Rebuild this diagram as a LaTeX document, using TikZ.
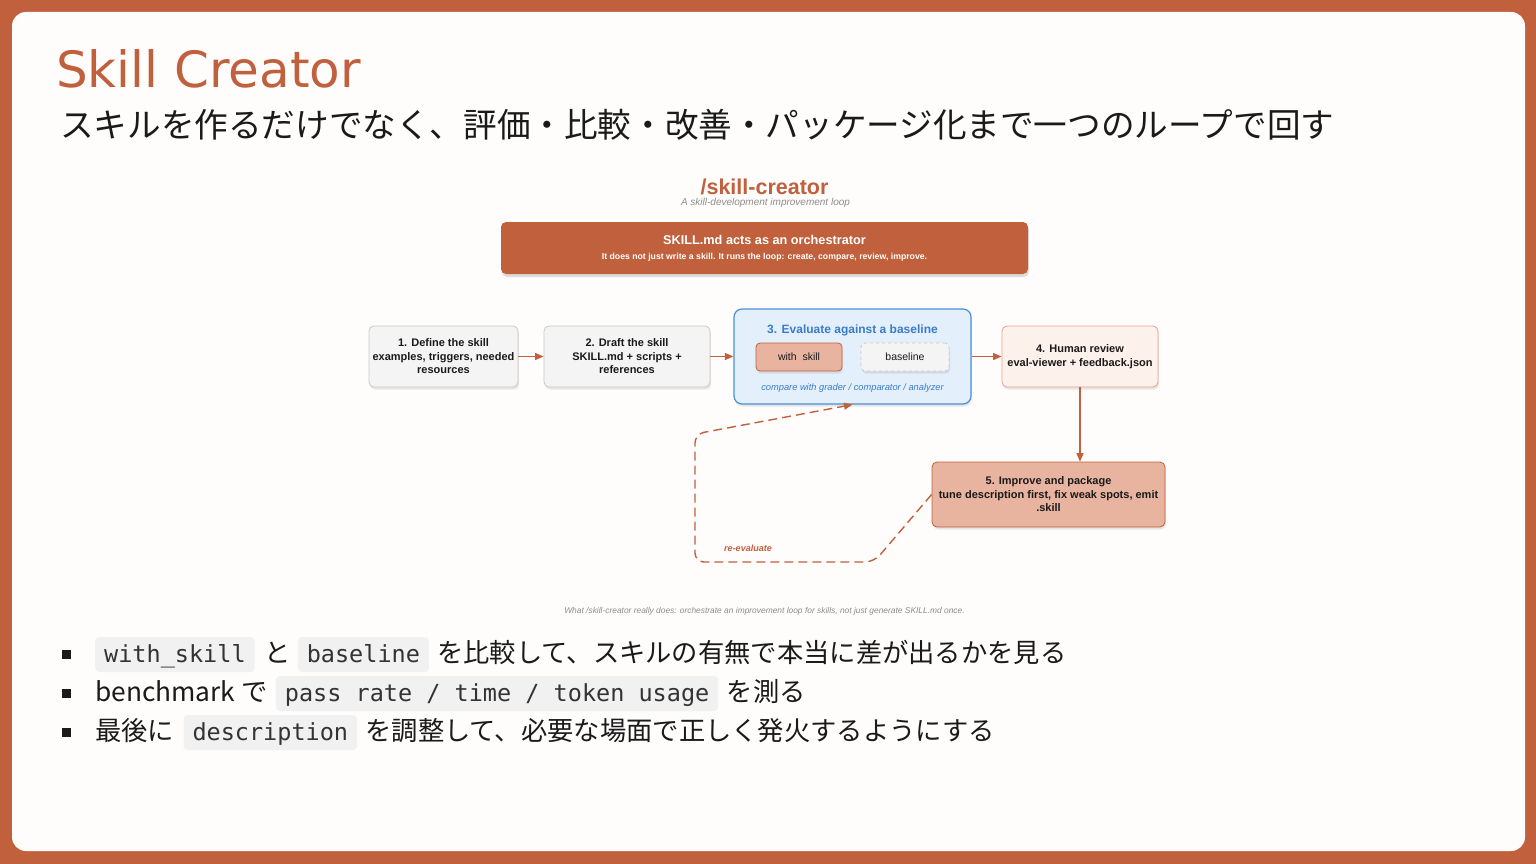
\documentclass[tikz,border=0pt]{standalone}
\usepackage{fontspec}
\setmainfont{Liberation Sans}
\newfontfamily\jpfont{Noto Sans CJK JP}
\newfontfamily\headfont{DejaVu Sans}
\newfontfamily\codefont{DejaVu Sans Mono}
\usetikzlibrary{arrows.meta,shadows,positioning}

\definecolor{rust}{HTML}{C0603D}
\definecolor{rustlight}{HTML}{E8B4A0}
\definecolor{peach}{HTML}{FDF1EB}
\definecolor{peachline}{HTML}{E2A48D}
\definecolor{boxgray}{HTML}{F4F4F4}
\definecolor{linegray}{HTML}{C8C8C8}
\definecolor{evalfill}{HTML}{E3F0FC}
\definecolor{evalblue}{HTML}{4A8FD5}
\definecolor{evaltext}{HTML}{3A7BC8}
\definecolor{codebg}{HTML}{F1F1F1}
\definecolor{codeink}{HTML}{333333}
\definecolor{ink}{HTML}{1A1A1A}
\definecolor{muted}{HTML}{8C8C8C}
\definecolor{paper}{HTML}{FFFDFC}

\begin{document}
\begin{tikzpicture}[x=1pt, y=-1pt,
    every node/.style={inner sep=0pt},
    shade box/.style={drop shadow={shadow xshift=1pt, shadow yshift=-2.5pt, opacity=0.18}},
    stepbox/.style={draw=linegray, fill=boxgray, rounded corners=5pt, line width=0.8pt,
        align=center, text=ink, font=\bfseries\fontsize{11}{13.5}\selectfont, shade box},
    flow/.style={rust, line width=1.3pt, -{Triangle[length=8.5pt,width=7pt]}},
    loopback/.style={rust, line width=1.4pt, dash pattern=on 9pt off 5pt, rounded corners=9pt,
        -{Triangle[length=8.5pt,width=7pt]}},
    code/.style={fill=codebg, rounded corners=4pt, inner xsep=9pt, inner ysep=1pt,
        text height=24pt, text depth=9pt, text=codeink, anchor=base west,
        font=\codefont\fontsize{23.5}{28}\selectfont},
    jptext/.style={anchor=base west, text=ink, font=\jpfont\fontsize{26.3}{30}\selectfont},
    bullet/.style={fill=ink, minimum size=9pt}
]
    \useasboundingbox (0,0) rectangle (1536,864);
    % frame
    \fill[rust] (0,0) rectangle (1536,864);
    \fill[paper, rounded corners=14pt] (12,12) rectangle (1525,851);

    % headings
    \node[anchor=base west, text=rust, font=\headfont\fontsize{50}{58}\selectfont] (title) at (56,88) {Skill Creator};
    \node[anchor=west, text=ink, font=\jpfont\fontsize{33.6}{40}\selectfont] (subtitle) at (60,125)
        {スキルを作るだけでなく、評価・比較・改善・パッケージ化まで一つのループで回す};

    % diagram
    \node[text=rust, font=\bfseries\fontsize{21.5}{24}\selectfont] (dtitle) at (764.5,187) {/skill-creator};
    \node[text=muted, font=\itshape\fontsize{10}{12}\selectfont] (dsub) at (765.5,203) {A skill-development improvement loop};

    \node[fill=rust, rounded corners=5pt, minimum width=527pt, minimum height=52pt, align=center, text=white,
        drop shadow={shadow xshift=1pt, shadow yshift=-3pt, opacity=0.25}] (orch) at (764.5,248)
        {{\bfseries\fontsize{12.7}{15}\selectfont SKILL.md acts as an orchestrator}\\[3pt]
         {\bfseries\fontsize{8.7}{10}\selectfont It does not just write a skill. It runs the loop: create, compare, review, improve.}};

    \node[stepbox, minimum width=149pt, minimum height=61pt] (define) at (443.5,356.5)
        {1. Define the skill\\examples, triggers, needed\\resources};
    \node[stepbox, minimum width=166pt, minimum height=61pt] (draft) at (627,356.5)
        {2. Draft the skill\\SKILL.md + scripts +\\references};

    \node[draw=evalblue, fill=evalfill, line width=1.2pt, rounded corners=8pt, minimum width=237pt,
        minimum height=95pt, shade box] (eval) at (852.5,356.5) {};
    \node[text=evaltext, font=\bfseries\fontsize{12}{14}\selectfont] (evaltitle) at (852.5,330) {3. Evaluate against a baseline};
    \node[draw=rust, fill=rustlight, line width=0.8pt, rounded corners=4pt, minimum width=86pt, minimum height=28pt,
        text=ink, font=\fontsize{10.5}{12}\selectfont, shade box] (withskill) at (799,357) {with\ \ skill};
    \node[draw=linegray, dashed, fill=boxgray, line width=0.8pt, rounded corners=4pt, minimum width=88pt, minimum height=28pt,
        text=ink, font=\fontsize{10.5}{12}\selectfont, shade box] (base) at (905,357) {baseline};
    \node[text=evaltext, font=\itshape\fontsize{9.3}{11}\selectfont] (evalnote) at (852.5,388)
        {compare with grader / comparator / analyzer};

    \node[stepbox, draw=peachline, fill=peach, minimum width=156pt, minimum height=61pt] (review) at (1080,356.5)
        {4. Human review\\eval-viewer + feedback.json};
    \node[stepbox, draw=rust, fill=rustlight, minimum width=233pt, minimum height=65pt] (improve) at (1048.5,494.5)
        {5. Improve and package\\tune description first, fix weak spots, emit\\.skill};

    \draw[flow] (define) -- (draft);
    \draw[flow] (draft) -- (eval);
    \draw[flow] (eval) -- (review);
    \draw[flow] (review.south) -- (review.south |- improve.north);

    \coordinate (loopA) at (874,562);
    \coordinate (loopB) at (695,562);
    \coordinate (loopC) at (695,434);
    \draw[loopback] (improve.west) -- (loopA) -- (loopB) -- (loopC) -- (eval.south);
    \node[text=rust, font=\bfseries\itshape\fontsize{9}{11}\selectfont] (relbl) at (748,548) {re-evaluate};

    \node[text=muted, font=\itshape\fontsize{8.4}{10}\selectfont] (foot) at (764.5,611)
        {What /skill-creator really does: orchestrate an improvement loop for skills, not just generate SKILL.md once.};

    % bullets
    \node[bullet] (b1) at (66,654) {};
    \node[code] (c1a) at (95,662) {with\_skill};
    \node[jptext] (t1a) at ([xshift=9pt]c1a.base east) {と};
    \node[code] (c1b) at ([xshift=7pt]t1a.base east) {baseline};
    \node[jptext] (t1b) at ([xshift=8pt]c1b.base east) {を比較して、スキルの有無で本当に差が出るかを見る};

    \node[bullet] (b2) at (66,693) {};
    \node[jptext] (t2a) at (95,701) {benchmark で};
    \node[code] (c2a) at ([xshift=8pt]t2a.base east) {pass rate / time / token usage};
    \node[jptext] (t2b) at ([xshift=8pt]c2a.base east) {を測る};

    \node[bullet] (b3) at (66,732) {};
    \node[jptext] (t3a) at (95,740) {最後に};
    \node[code] (c3a) at ([xshift=9pt]t3a.base east) {description};
    \node[jptext] (t3b) at ([xshift=8pt]c3a.base east) {を調整して、必要な場面で正しく発火するようにする};
\end{tikzpicture}
\end{document}
